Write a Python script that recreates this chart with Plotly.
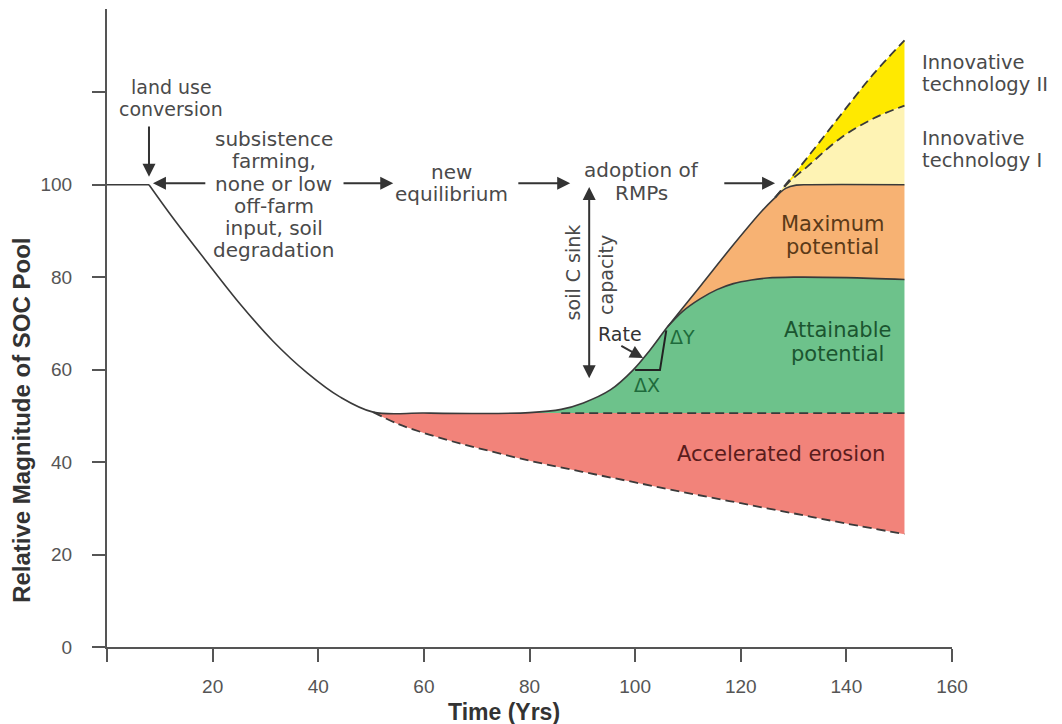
import plotly.graph_objects as go

# ---------------- data (Time in years, relative SOC pool) ----------------
pre_time = [0, 7.95]
pre_soc = [100, 100]

main_time = [7.95, 12.5, 18.9, 25.2, 31.4, 37.9, 44.1, 50.4, 60, 70, 80, 86, 90.2, 95.3,
             99.6, 102.8, 106.1, 112.3, 118.6, 124.0, 126.5]
main_soc = [100, 92.8, 83.3, 74.2, 66.2, 59.3, 54.1, 50.8, 50.6, 50.5, 50.7, 51.4, 52.8, 55.6,
            59.9, 64.2, 69.2, 78.0, 87.0, 94.3, 97.2]

maxpot_time = [126.5, 128.5, 130.5, 133, 151]
maxpot_soc = [97.2, 99.2, 99.9, 100, 100]

attain_time = [106.1, 109, 112.3, 115.5, 118.6, 122, 125, 130, 140, 151]
attain_soc = [69.2, 72.6, 75.3, 77.3, 78.6, 79.4, 79.8, 80.0, 79.9, 79.5]

tech1_time = [126.5, 129, 132.5, 138.8, 145.1, 151]
tech1_soc = [97.2, 100.4, 103.8, 110.0, 114.3, 117.1]

tech2_time = [126.5, 132.5, 138.8, 145.1, 151]
tech2_soc = [97.2, 105.7, 114.9, 123.9, 131.2]

erosion_time = [50.4, 55, 60, 65, 70, 80, 90, 100, 110, 120, 130, 140, 151]
erosion_soc = [50.8, 48.3, 46.3, 44.6, 43.1, 40.3, 37.9, 35.6, 33.3, 31.1, 28.9, 26.7, 24.4]

equil_level = 50.6
equil_time = [86, 151]
green_start = 80

rate_tri_time = [100.0, 104.7, 105.9]
rate_tri_soc = [59.9, 59.9, 68.5]

x_ticks = [0, 20, 40, 60, 80, 100, 120, 140, 160]
x_ticktext = ["", "20", "40", "60", "80", "100", "120", "140", "160"]
y_ticks = [0, 20, 40, 60, 80, 100, 120]
y_ticktext = ["0", "20", "40", "60", "80", "100", ""]

# ---------------- colours / styles ----------------
RED = "#F2837A"
GREEN = "#6DC28B"
ORANGE = "#F7B273"
LYELLOW = "#FEF3B4"
YELLOW = "#FFE900"
LINE = "#3a3a3a"
GRAY = "#4a4a4a"
AXIS = "#555555"
ANN_FONT = "DejaVu Sans"
TICK_FONT = "Liberation Sans, Arial, sans-serif"

fig = go.Figure()


def base(x, y):
    fig.add_trace(go.Scatter(x=x, y=y, mode="lines", line=dict(width=0, shape="spline"),
                             hoverinfo="skip", showlegend=False))


def fill_to_prev(x, y, color):
    fig.add_trace(go.Scatter(x=x, y=y, mode="lines", fill="tonexty", fillcolor=color,
                             line=dict(width=0, shape="spline"), hoverinfo="skip",
                             showlegend=False))


def curve(x, y, dash=None, width=1.6, shape="spline", color=LINE):
    fig.add_trace(go.Scatter(x=x, y=y, mode="lines",
                             line=dict(color=color, width=width, dash=dash, shape=shape),
                             hoverinfo="skip", showlegend=False))


# slices of the main curve
main_green = [(t, s) for t, s in zip(main_time, main_soc) if green_start <= t <= attain_time[0]]
main_orange = [(t, s) for t, s in zip(main_time, main_soc) if t >= attain_time[0]]

# red: accelerated erosion
base([erosion_time[0], erosion_time[-1]], [equil_level, equil_level])
fill_to_prev(erosion_time, erosion_soc, RED)

# green: attainable potential
base([green_start, attain_time[-1]], [equil_level, equil_level])
fill_to_prev([t for t, _ in main_green] + attain_time[1:],
             [s for _, s in main_green] + attain_soc[1:], GREEN)

# orange: maximum potential
base(attain_time, attain_soc)
fill_to_prev([t for t, _ in main_orange] + maxpot_time[1:],
             [s for _, s in main_orange] + maxpot_soc[1:], ORANGE)

# light yellow: innovative technology I
base(maxpot_time, maxpot_soc)
fill_to_prev(tech1_time, tech1_soc, LYELLOW)

# yellow: innovative technology II
base(tech1_time, tech1_soc)
fill_to_prev(tech2_time, tech2_soc, YELLOW)

# outlines
curve(pre_time, pre_soc, shape="linear")
curve(main_time, main_soc)
curve(maxpot_time, maxpot_soc)
curve(attain_time, attain_soc)
curve(equil_time, [equil_level, equil_level], dash="9px,5px", width=1.8, shape="linear")
curve(erosion_time, erosion_soc, dash="9px,5px", width=1.8)
curve(tech1_time, tech1_soc, dash="9px,5px", width=1.8)
curve(tech2_time, tech2_soc, dash="9px,5px", width=1.8)
curve(rate_tri_time, rate_tri_soc, shape="linear", width=2, color="#222222")


# ---------------- text ----------------
def text(lines, x, y, size=20, color=GRAY, spacing=22, xanchor="center", family=ANN_FONT,
         angle=0, ref="x"):
    for i, ln in enumerate(lines):
        fig.add_annotation(x=x, y=y, xref="x" if ref == "x" else "paper",
                           yref="y" if ref == "x" else "paper",
                           text=ln, showarrow=False,
                           xanchor=xanchor, yanchor="middle", yshift=-i * spacing,
                           textangle=angle,
                           font=dict(family=family, size=size, color=color))


def arrow(hx, hy, tx, ty, both=False):
    fig.add_annotation(x=hx, y=hy, ax=tx, ay=ty, xref="x", yref="y", axref="x", ayref="y",
                       text="", showarrow=True, arrowhead=2, arrowsize=1.3, arrowwidth=2,
                       arrowcolor="#333333", arrowside="end+start" if both else "end",
                       startarrowhead=2, startarrowsize=1.3, standoff=0, startstandoff=0)


text(["land use", "conversion"], 12.2, 121.1, size=19, spacing=22)
text(["subsistence", "farming,", "none or low", "off-farm", "input, soil", "degradation"],
     31.6, 109.9, spacing=22.3)
text(["new", "equilibrium"], 65.3, 102.7, spacing=22)
text(["adoption of", "RMPs"], 101.3, 103.2, spacing=23)
text(["soil C sink"], 88.3, 81.1, angle=-90, size=19)
text(["capacity"], 94.5, 80.5, angle=-90, size=19)
text(["Rate"], 97.1, 67.7, size=19, color="#333333")
text(["\u0394Y"], 108.9, 67.1, size=19, color="#1e6b3c")
text(["\u0394X"], 102.3, 56.7, size=19, color="#1e6b3c")
text(["Maximum", "potential"], 137.3, 91.5, size=21, color="#5b3a18", spacing=23)
text(["Attainable", "potential"], 138.4, 68.6, size=21, color="#1b5530", spacing=24)
text(["Accelerated erosion"], 127.7, 41.7, size=21, color="#5a1c1c")
text(["Innovative", "technology II"], 153.9, 126.5, size=19.5, spacing=22, xanchor="left")
text(["Innovative", "technology I"], 153.9, 109.9, size=19.5, spacing=22, xanchor="left")

# axis titles (paper coordinates, outside the plotting area)
text(["<b>Relative Magnitude of SOC Pool</b>"], -0.1006, 0.356, size=24, color="#333333",
     family=TICK_FONT, angle=-90, ref="paper")
text(["<b>Time (Yrs)</b>"], 0.47, -0.102, size=23, color="#333333", family=TICK_FONT,
     ref="paper")

# arrows
arrow(7.95, 101.7, 7.95, 112.9)          # land use conversion
arrow(8.7, 100.3, 18.9, 100.3)           # back to conversion
arrow(54.2, 100.3, 44.5, 100.3)
arrow(87.7, 100.3, 77.6, 100.3)
arrow(126.5, 100.3, 116.6, 100.3)
arrow(91.3, 99.5, 91.3, 57.8, both=True)  # soil C sink capacity
arrow(101.5, 62.5, 97.1, 65.3)            # rate

axis_common = dict(showgrid=False, zeroline=False, showline=True, linecolor=AXIS, linewidth=2,
                   ticks="outside", ticklen=13, tickwidth=2, tickcolor=AXIS,
                   tickfont=dict(family=TICK_FONT, size=19, color="#555555"))

fig.update_layout(
    width=1054, height=716,
    margin=dict(l=99, r=110, t=1, b=77, autoexpand=False),
    paper_bgcolor="white", plot_bgcolor="white",
    showlegend=False,
    xaxis=dict(range=[0, 160], tickvals=x_ticks, ticktext=x_ticktext, ticklabelstandoff=8,
               automargin=False, **axis_common),
    yaxis=dict(range=[0, 138], tickvals=y_ticks, ticktext=y_ticktext, ticklabelstandoff=16,
               automargin=False, **axis_common),
)

fig.write_html("out.html")
